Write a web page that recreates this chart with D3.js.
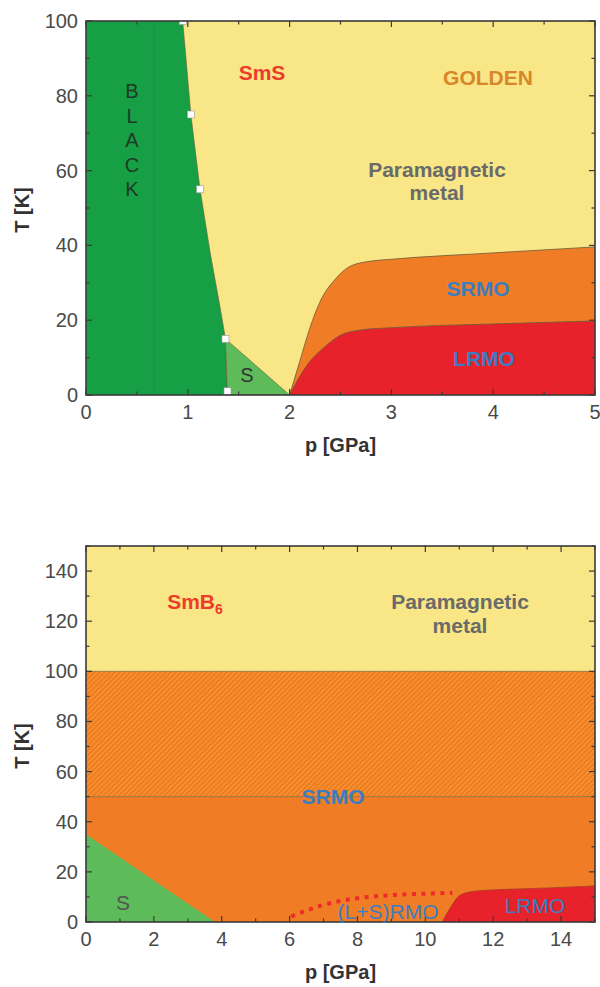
<!DOCTYPE html>
<html>
<head>
<meta charset="utf-8">
<script src="https://cdn.jsdelivr.net/npm/d3@7"></script>
<style>
  body { margin: 0; background: #fff; }
  svg { display: block; font-family: "Liberation Sans", Arial, sans-serif; }
</style>
</head>
<body>
<div id="chart"></div>
<script>
// ---- top panel (SmS) ----
const smsBlackEdge = [[0.95, 100], [1.03, 75], [1.12, 55], [1.22, 38], [1.32, 23], [1.37, 15], [1.39, 0]];
const smsSquares = [[0.95, 100], [1.03, 75], [1.12, 55], [1.37, 15], [1.39, 1]];
const smsSTriangle = [[1.37, 15], [1.39, 0], [2.0, 0]];
const smsSrmoTop = [[2.0, 0], [2.1, 9], [2.2, 18], [2.3, 25], [2.45, 31], [2.6, 34.5], [2.8, 35.8], [3.0, 36.3], [4.0, 38], [5.0, 39.6]];
const smsLrmoTop = [[2.0, 0], [2.1, 5], [2.2, 9], [2.35, 13], [2.5, 16], [2.7, 17.4], [3.0, 18], [4.0, 19], [5.0, 19.8]];
const smsFaintLine = 0.67;

// ---- bottom panel (SmB6) ----
const smbParaFrom = 100;
const smbHatchFrom = 50;
const smbSTriangle = [[0, 35], [0, 0], [3.8, 0]];
const smbLrmoTop = [[10.5, 0], [10.75, 6], [11.0, 10.5], [11.4, 12.2], [12, 12.8], [13, 13.3], [14, 13.8], [15, 14.4]];
const smbDotted = [[6.05, 2.2], [6.5, 4.6], [7.0, 6.8], [7.5, 8.4], [8.0, 9.5], [9.0, 10.7], [10.0, 11.3], [10.8, 11.6]];

const topXTicks = [0, 1, 2, 3, 4, 5];
const topYTicks = [0, 20, 40, 60, 80, 100];
const botXTicks = [0, 2, 4, 6, 8, 10, 12, 14];
const botYTicks = [0, 20, 40, 60, 80, 100, 120, 140];

const C = {
  dkgreen: "#169f45", ltgreen: "#5dbb5a", yellow: "#f9e686",
  orange: "#f07d25", red: "#e8222a", hatch: "#f6a531",
  edge: "#6b5a3a", blue: "#3b7dc0", gray: "#6a6a6a"
};

const svg = d3.select("#chart").append("svg")
    .attr("width", 600).attr("height", 987);

const defs = svg.append("defs");
const pat = defs.append("pattern")
    .attr("id", "hatch").attr("patternUnits", "userSpaceOnUse")
    .attr("width", 3.6).attr("height", 3.6)
    .attr("patternTransform", "rotate(45)");
pat.append("rect").attr("width", 3.6).attr("height", 3.6).attr("fill", C.orange);
pat.append("line").attr("x1", 0).attr("y1", 0).attr("x2", 0).attr("y2", 3.6)
    .attr("stroke", C.hatch).attr("stroke-width", 1.6);

function panel({left, right, top, bottom, xDomain, yDomain, xTicks, yTicks, xMinor, yMinor, id, tY}) {
  const x = d3.scaleLinear().domain(xDomain).range([left, right]);
  const y = d3.scaleLinear().domain(yDomain).range([bottom, top]);
  defs.append("clipPath").attr("id", id)
    .append("rect").attr("x", left).attr("y", top)
    .attr("width", right - left).attr("height", bottom - top);
  const g = svg.append("g");
  const plot = g.append("g").attr("clip-path", `url(#${id})`);
  const axes = g.append("g");

  // the frame and inward ticks are drawn after the regions
  const finish = () => {
    axes.append("rect")
      .attr("x", left).attr("y", top)
      .attr("width", right - left).attr("height", bottom - top)
      .attr("fill", "none").attr("stroke", "#3a3a3a").attr("stroke-width", 1.6);
    const minorX = d3.range(xDomain[0], xDomain[1] + 1e-9, xMinor);
    const minorY = d3.range(yDomain[0], yDomain[1] + 1e-9, yMinor);
    const tk = axes.append("g").attr("stroke", "#3a3a3a").attr("stroke-width", 1.2);
    minorX.forEach(v => {
      const len = xTicks.includes(+v.toFixed(3)) ? 6 : 3.5;
      tk.append("line").attr("x1", x(v)).attr("x2", x(v)).attr("y1", bottom).attr("y2", bottom - len);
      tk.append("line").attr("x1", x(v)).attr("x2", x(v)).attr("y1", top).attr("y2", top + len);
    });
    minorY.forEach(v => {
      const len = yTicks.includes(+v.toFixed(3)) ? 6 : 3.5;
      tk.append("line").attr("y1", y(v)).attr("y2", y(v)).attr("x1", left).attr("x2", left + len);
      tk.append("line").attr("y1", y(v)).attr("y2", y(v)).attr("x1", right).attr("x2", right - len);
    });
    axes.selectAll(".xl").data(xTicks).join("text")
      .attr("x", d => x(d)).attr("y", bottom + 24)
      .attr("text-anchor", "middle").attr("font-size", 20).attr("fill", "#4a4a4a")
      .text(d => d);
    axes.selectAll(".yl").data(yTicks).join("text")
      .attr("x", left - 8).attr("y", d => y(d) + 7)
      .attr("text-anchor", "end").attr("font-size", 20).attr("fill", "#4a4a4a")
      .text(d => d);
    axes.append("text")
      .attr("x", (left + right) / 2).attr("y", bottom + 57)
      .attr("text-anchor", "middle").attr("font-size", 20).attr("font-weight", "bold")
      .attr("fill", "#333").text("p [GPa]");
    axes.append("text")
      .attr("transform", `translate(29,${tY}) rotate(-90)`)
      .attr("text-anchor", "middle").attr("font-size", 20).attr("font-weight", "bold")
      .attr("fill", "#333").text("T [K]");
  };
  return {x, y, plot, finish};
}

function label(g, px, py, str, color, size = 20, weight = "bold") {
  return g.append("text").attr("x", px).attr("y", py)
    .attr("text-anchor", "middle").attr("font-size", size)
    .attr("font-weight", weight).attr("fill", color).text(str);
}

// ================= top =================
{
  const P = panel({left: 86, right: 595, top: 21, bottom: 395,
    xDomain: [0, 5], yDomain: [0, 100], xTicks: topXTicks, yTicks: topYTicks,
    xMinor: 0.5, yMinor: 10, id: "clipTop", tY: 210});
  const {x, y, plot} = P;
  const line = d3.line().x(d => x(d[0])).y(d => y(d[1]));
  const smooth = d3.line().x(d => x(d[0])).y(d => y(d[1])).curve(d3.curveMonotoneX);
  const area = d3.area().x(d => x(d[0])).y0(y(0)).y1(d => y(d[1])).curve(d3.curveMonotoneX);

  plot.append("rect").attr("x", x(0)).attr("y", y(100))
    .attr("width", x(5) - x(0)).attr("height", y(0) - y(100)).attr("fill", C.yellow);

  plot.append("path")
    .attr("d", line([[0, 0], [0, 100], ...smsBlackEdge]) + "Z")
    .attr("fill", C.dkgreen);
  plot.append("line")
    .attr("x1", x(smsFaintLine)).attr("x2", x(smsFaintLine))
    .attr("y1", y(0)).attr("y2", y(100))
    .attr("stroke", "#138e3d").attr("stroke-width", 0.6).attr("opacity", 0.6);
  plot.append("path").attr("d", line(smsBlackEdge))
    .attr("fill", "none").attr("stroke", C.edge).attr("stroke-width", 0.6);

  plot.append("path").attr("d", line(smsSTriangle) + "Z")
    .attr("fill", C.ltgreen).attr("stroke", C.edge).attr("stroke-width", 0.6);

  plot.append("path").attr("d", area([...smsSrmoTop]))
    .attr("fill", C.orange);
  plot.append("path").attr("d", smooth(smsSrmoTop))
    .attr("fill", "none").attr("stroke", C.edge).attr("stroke-width", 0.8);
  plot.append("path").attr("d", area(smsLrmoTop))
    .attr("fill", C.red);
  plot.append("path").attr("d", smooth(smsLrmoTop))
    .attr("fill", "none").attr("stroke", C.edge).attr("stroke-width", 0.8);

  P.finish();

  plot.selectAll(".sq").data(smsSquares).join("rect")
    .attr("x", d => x(d[0]) - 3.5).attr("y", d => y(d[1]) - 3.5)
    .attr("width", 7).attr("height", 7)
    .attr("fill", "#fff").attr("stroke", "#999").attr("stroke-width", 0.6);

  label(svg, 262, 80, "SmS", "#ee3b2c", 21);
  label(svg, 488, 85, "GOLDEN", "#d8862a", 21);
  label(svg, 437, 177, "Paramagnetic", C.gray, 21);
  label(svg, 437, 200, "metal", C.gray, 21);
  label(svg, 478, 296, "SRMO", C.blue, 21);
  label(svg, 484, 366, "LRMO", C.blue, 21);
  label(svg, 247, 382, "S", "#333", 20, "normal");
  ["B", "L", "A", "C", "K"].forEach((c, i) =>
    label(svg, 132, 98 + i * 24.5, c, "#1d3a24", 20, "normal"));
}

// ================= bottom =================
{
  const P = panel({left: 86, right: 595, top: 546, bottom: 922,
    xDomain: [0, 15], yDomain: [0, 150], xTicks: botXTicks, yTicks: botYTicks,
    xMinor: 1, yMinor: 10, id: "clipBot", tY: 746});
  const {x, y, plot} = P;
  const line = d3.line().x(d => x(d[0])).y(d => y(d[1]));
  const smooth = d3.line().x(d => x(d[0])).y(d => y(d[1])).curve(d3.curveMonotoneX);
  const area = d3.area().x(d => x(d[0])).y0(y(0)).y1(d => y(d[1])).curve(d3.curveMonotoneX);

  plot.append("rect").attr("x", x(0)).attr("y", y(150))
    .attr("width", x(15) - x(0)).attr("height", y(smbParaFrom) - y(150)).attr("fill", C.yellow);
  plot.append("rect").attr("x", x(0)).attr("y", y(smbParaFrom))
    .attr("width", x(15) - x(0)).attr("height", y(smbHatchFrom) - y(smbParaFrom)).attr("fill", "url(#hatch)");
  plot.append("rect").attr("x", x(0)).attr("y", y(smbHatchFrom))
    .attr("width", x(15) - x(0)).attr("height", y(0) - y(smbHatchFrom)).attr("fill", C.orange);
  [smbParaFrom, smbHatchFrom].forEach(v =>
    plot.append("line").attr("x1", x(0)).attr("x2", x(15))
      .attr("y1", y(v)).attr("y2", y(v))
      .attr("stroke", "#8a6a3a").attr("stroke-width", 0.8));

  plot.append("path").attr("d", line(smbSTriangle) + "Z").attr("fill", C.ltgreen);

  plot.append("path").attr("d", area(smbLrmoTop)).attr("fill", C.red);
  plot.append("path").attr("d", smooth(smbLrmoTop))
    .attr("fill", "none").attr("stroke", "#9a3a2a").attr("stroke-width", 0.7);

  plot.append("path").attr("d", smooth(smbDotted))
    .attr("fill", "none").attr("stroke", "#ee2a2a")
    .attr("stroke-width", 4).attr("stroke-dasharray", "4,5.5");

  P.finish();

  svg.append("text").attr("x", 195).attr("y", 609)
    .attr("text-anchor", "middle").attr("font-size", 21).attr("font-weight", "bold")
    .attr("fill", "#ee3b2c")
    .call(t => t.append("tspan").text("SmB"))
    .call(t => t.append("tspan").attr("font-size", 14).attr("dy", 5).text("6"));
  label(svg, 460, 609, "Paramagnetic", C.gray, 21);
  label(svg, 460, 633, "metal", C.gray, 21);
  label(svg, 333, 804, "SRMO", C.blue, 21);
  label(svg, 388, 919, "(L+S)RMO", C.blue, 21, "normal");
  label(svg, 535, 913, "LRMO", C.blue, 21, "normal");
  label(svg, 123, 910, "S", "#555", 21, "normal");
}
</script>
</body>
</html>
